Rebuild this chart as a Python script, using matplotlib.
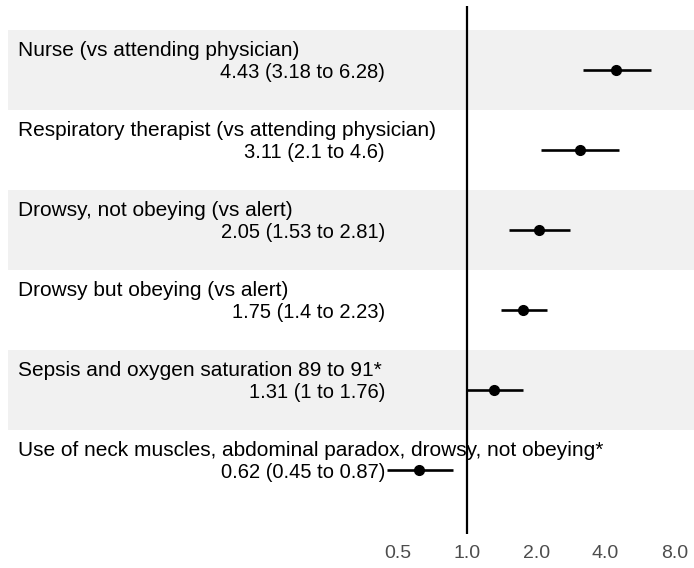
import matplotlib
matplotlib.use("Agg")
import matplotlib.pyplot as plt
import matplotlib.transforms as mtransforms
import numpy as np

# Odds ratios with 95% CI, top row first
labels = [
    "Nurse (vs attending physician)",
    "Respiratory therapist (vs attending physician)",
    "Drowsy, not obeying (vs alert)",
    "Drowsy but obeying (vs alert)",
    "Sepsis and oxygen saturation 89 to 91*",
    "Use of neck muscles, abdominal paradox, drowsy, not obeying*",
]
estimates = [4.43, 3.11, 2.05, 1.75, 1.31, 0.62]
lower = [3.18, 2.1, 1.53, 1.4, 1.0, 0.45]
upper = [6.28, 4.6, 2.81, 2.23, 1.76, 0.87]
est_text = [
    "4.43 (3.18 to 6.28)",
    "3.11 (2.1 to 4.6)",
    "2.05 (1.53 to 2.81)",
    "1.75 (1.4 to 2.23)",
    "1.31 (1 to 1.76)",
    "0.62 (0.45 to 0.87)",
]
xticks = [0.5, 1.0, 2.0, 4.0, 8.0]
xtick_labels = ["0.5", "1.0", "2.0", "4.0", "8.0"]

plt.rcParams["font.family"] = ["Liberation Sans", "DejaVu Sans"]

W, H = 694, 568
fig = plt.figure(figsize=(W / 100, H / 100), dpi=100)
ax = fig.add_axes([8 / W, (H - 534) / H, (W - 8) / W, (534 - 6) / H])

n = len(labels)
ys = np.arange(n, 0, -1)

# alternating bands
for i, y in enumerate(ys):
    if i % 2 == 0:
        ax.axhspan(y - 0.5, y + 0.5, color="#f1f1f1", lw=0, zorder=0)

ax.axvline(1.0, color="black", lw=1.6, zorder=2)

ax.hlines(ys, lower, upper, color="black", lw=1.9, zorder=3)
ax.plot(estimates, ys, "o", color="black", ms=7, zorder=4)

trans = mtransforms.blended_transform_factory(ax.transAxes, ax.transData)
for y, lab, et in zip(ys, labels, est_text):
    ax.text(0.0146, y + 0.25, lab, transform=trans, ha="left", va="center",
            fontsize=15, color="black")
    ax.text(0.5496, y - 0.025, et, transform=trans, ha="right", va="center",
            fontsize=14.5, color="black")

ax.set_xscale("log", base=2)
ax.set_xlim(2 ** ((8 - 467) / 69.25), 2 ** ((694 - 467) / 69.25))
ax.set_ylim(0.5 - 24 / 80, 6.5 + 24 / 80)
ax.set_xticks(xticks)
ax.set_xticklabels(xtick_labels)
ax.minorticks_off()
ax.tick_params(axis="x", length=0, pad=8, labelsize=14, labelcolor="#4d4d4d")
ax.set_yticks([])
for s in ax.spines.values():
    s.set_visible(False)

fig.savefig("out.png", dpi=100)
